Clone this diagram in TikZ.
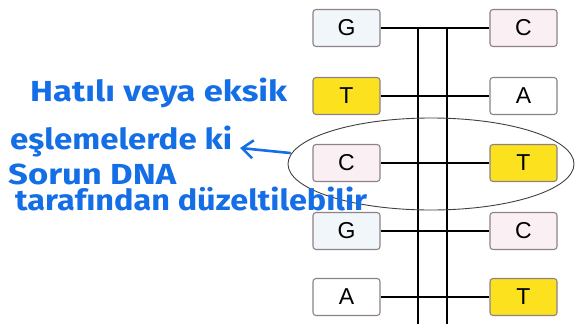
\documentclass[tikz,border=0pt]{standalone}
\usepackage{fontspec}
\usepackage{graphicx}
\newfontfamily\handfont{Fira Sans}
\newfontfamily\boxfont{Liberation Sans}
\usetikzlibrary{arrows.meta}
\definecolor{hand}{RGB}{20,110,230}
\definecolor{gfill}{RGB}{240,246,250}
\definecolor{cfill}{RGB}{250,240,244}
\definecolor{tfill}{RGB}{252,226,30}
\definecolor{boxedge}{RGB}{140,130,135}
\tikzset{
  base/.style={draw=boxedge, line width=1.1pt, rounded corners=3pt, minimum width=67pt, minimum height=37pt, font=\boxfont\fontsize{23}{23}\selectfont, inner sep=0pt},
  gbox/.style={base, fill=gfill},
  cbox/.style={base, fill=cfill},
  tbox/.style={base, fill=tfill},
  abox/.style={base, fill=white},
  rung/.style={line width=1.8pt, black},
  hw/.style={text=hand, font=\handfont\bfseries\fontsize{29}{29}\selectfont, anchor=base west, inner sep=0pt},
}
\begin{document}
\begin{tikzpicture}[x=1pt,y=-1pt]
\useasboundingbox (0,0) rectangle (575,324);
\node[gbox] (l1) at (346.5,28) {G};
\node[tbox] (l2) at (346.5,96) {T};
\node[cbox] (l3) at (346.5,163) {C};
\node[gbox] (l4) at (346.5,231) {G};
\node[abox] (l5) at (346.5,297) {A};
\node[cbox] (r1) at (523.5,28) {C};
\node[abox] (r2) at (523.5,96) {A};
\node[tbox] (r3) at (523.5,163) {T};
\node[cbox] (r4) at (523.5,231) {C};
\node[tbox] (r5) at (523.5,297) {T};
\coordinate (v1t) at (418,28);
\coordinate (v1b) at (418,324);
\coordinate (v2t) at (447,28);
\coordinate (v2b) at (447,324);
\draw[rung] (v1t) -- (v1b);
\draw[rung] (v2t) -- (v2b);
\foreach \i in {1,...,5} {\draw[rung] (l\i.east) -- (r\i.west);}
\draw[line width=0.9pt, black!75] (431,164) ellipse [x radius=143, y radius=46];
\node[hw] (t1) at (30,101) {\resizebox{257pt}{\height}{Hatılı veya eksik}};
\node[hw] (t2) at (10,149) {\resizebox{222pt}{\height}{eşlemelerde ki}};
\node[hw] (t3) at (8,184) {\resizebox{168pt}{\height}{Sorun DNA}};
\node[hw] (t4) at (15,210) {\resizebox{352pt}{\height}{tarafından düzeltilebilir}};
\coordinate (a1) at (290,153);
\coordinate (a2) at (240,148);
\draw[hand, line width=2.6pt, line cap=round, -{Straight Barb[length=11pt,width=18pt,line width=2.6pt]}] (a1) -- (a2);
\end{tikzpicture}
\end{document}
